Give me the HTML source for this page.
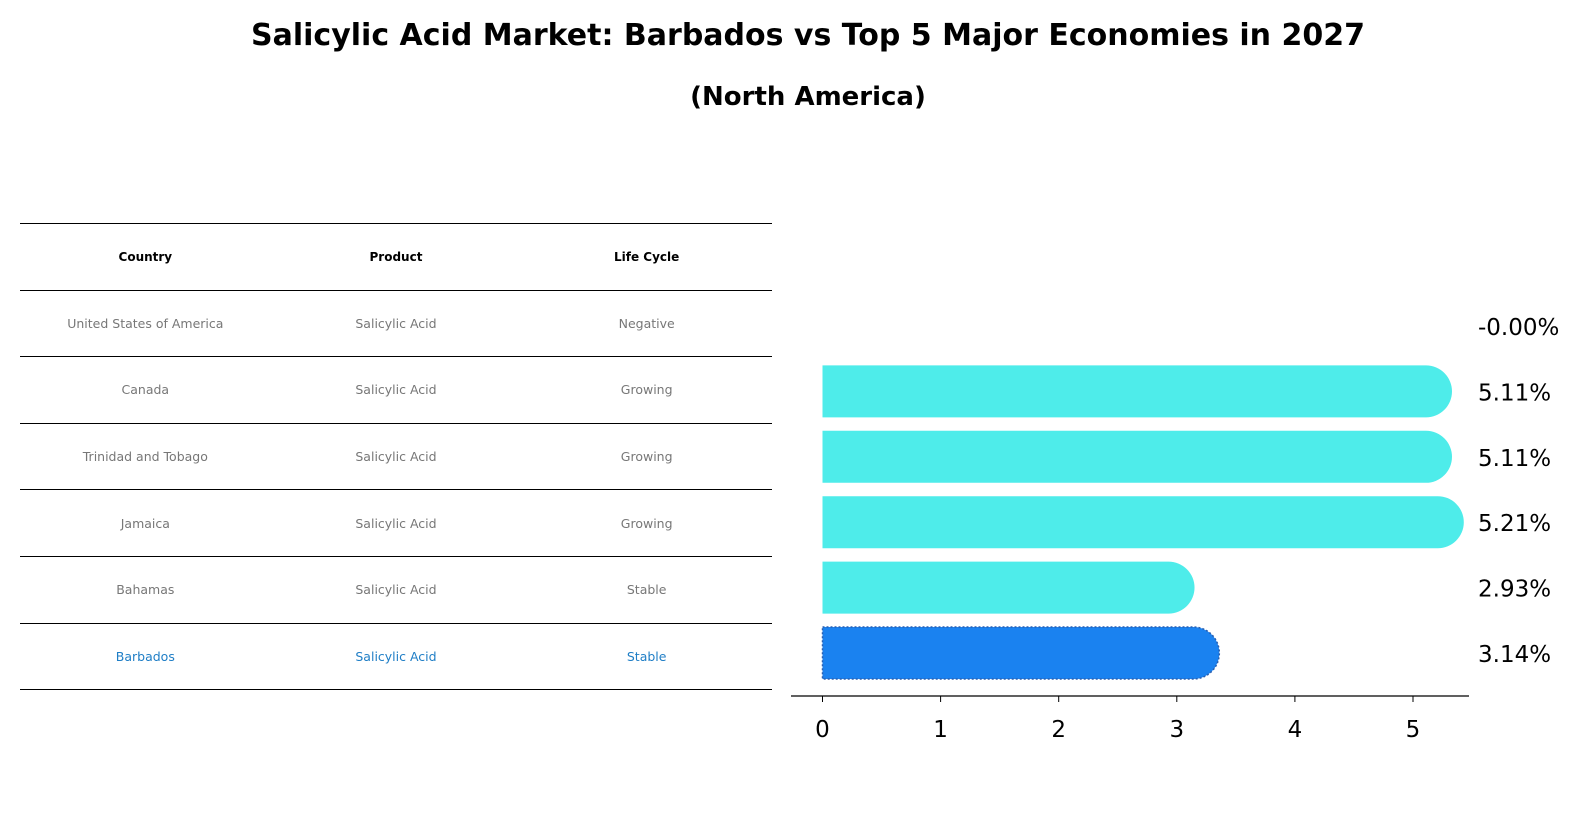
<!DOCTYPE html>
<html><head><meta charset="utf-8"><style>
body{margin:0;width:1596px;height:823px;background:#fff;font-family:"DejaVu Sans","Liberation Sans",sans-serif;overflow:hidden;position:relative}
.t{position:absolute;left:0;width:1616px;text-align:center;font-weight:bold;color:#000;white-space:nowrap}
table{position:absolute;left:20px;top:223px;width:752px;border-collapse:collapse}
td,th{height:65.6px;border-top:1px solid #000;border-bottom:1px solid #000;text-align:center;font-size:12.5px;color:#777;padding:0;width:250px}
th{color:#000;font-size:12px;font-weight:bold}
tr.hl td{color:#1f7ec6}
</style></head><body>
<div class="t" style="top:18px;font-size:30px">Salicylic Acid Market: Barbados vs Top 5 Major Economies in 2027</div>
<div class="t" style="top:82px;font-size:26px">(North America)</div>
<table>
<tr><th>Country</th><th>Product</th><th>Life Cycle</th></tr>
<tr><td>United States of America</td><td>Salicylic Acid</td><td>Negative</td></tr>
<tr><td>Canada</td><td>Salicylic Acid</td><td>Growing</td></tr>
<tr><td>Trinidad and Tobago</td><td>Salicylic Acid</td><td>Growing</td></tr>
<tr><td>Jamaica</td><td>Salicylic Acid</td><td>Growing</td></tr>
<tr><td>Bahamas</td><td>Salicylic Acid</td><td>Stable</td></tr>
<tr class="hl"><td>Barbados</td><td>Salicylic Acid</td><td>Stable</td></tr>
</table>
<svg id="c" width="1596" height="823" style="position:absolute;left:0;top:0"></svg>
<script>
const categories=["United States of America","Canada","Trinidad and Tobago","Jamaica","Bahamas","Barbados"];
const values=[-0.0001,5.11,5.11,5.21,2.93,3.14];
const labels=["-0.00%","5.11%","5.11%","5.21%","2.93%","3.14%"];
const ticks=[0,1,2,3,4,5];
const NS="http://www.w3.org/2000/svg";
const svg=document.getElementById('c');
const x=v=>822.5+v*118.1;
const y=i=>326+i*65.4;
function mk(t,a){const e=document.createElementNS(NS,t);for(const k in a)e.setAttribute(k,a[k]);svg.appendChild(e);return e;}
const h=52,r=26;
values.forEach((v,i)=>{
  if(v>0){
    const x0=x(0),x1=x(v),cy=y(i);
    const p=mk('path',{d:`M${x0},${cy-h/2} H${x1} A${r},${r} 0 0 1 ${x1},${cy+h/2} H${x0} Z`,fill:i===5?'#1a82f0':'#4eecea'});
    if(i===5){p.setAttribute('stroke','#2a5fb0');p.setAttribute('stroke-dasharray','2,2');p.setAttribute('stroke-width','1.5');}
    
    
  }
  const t=mk('text',{x:1478,y:y(i)+9,'font-size':23,fill:'#000','font-family':'DejaVu Sans, sans-serif'});
  t.textContent=labels[i];
  
  
});
const ax=mk('line',{x1:791,x2:1469,y1:696,y2:696,stroke:'#000','stroke-width':1.3});


ticks.forEach(t=>{
  mk('line',{x1:x(t),x2:x(t),y1:696,y2:702,stroke:'#000'});
  const tx=mk('text',{x:x(t),y:737,'font-size':23,'text-anchor':'middle',fill:'#000','font-family':'DejaVu Sans, sans-serif'});
  tx.textContent=t;
  
  
});
</script>
</body></html>
